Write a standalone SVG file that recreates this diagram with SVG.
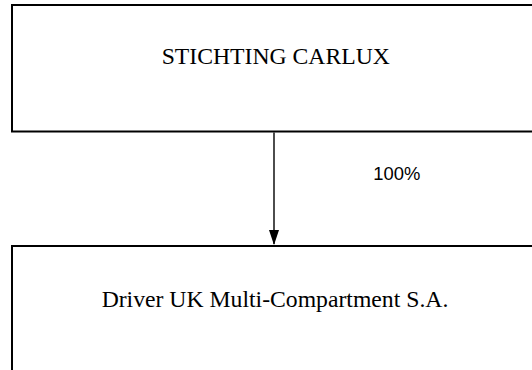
<svg xmlns="http://www.w3.org/2000/svg" width="532" height="370" viewBox="0 0 532 370">
<style>
.box{fill:#fff;stroke:#000;stroke-width:2}
.lbl{font-family:"Liberation Serif","Times New Roman",serif;font-size:23.7px;fill:#000;text-anchor:middle}
.pct{font-family:"Liberation Sans",Arial,sans-serif;font-size:18.4px;fill:#000}
.conn{stroke:#000;stroke-width:1.4;fill:none}
</style>
<defs>
<marker id="arr" markerUnits="userSpaceOnUse" markerWidth="15" markerHeight="10" refX="14" refY="5" orient="auto" viewBox="0 0 15 10">
<path d="M0,0 L15,5 L0,10 Z" fill="#000"/>
</marker>
</defs>
<rect width="532" height="370" fill="#fff"/>
<g id="node-stichting">
<rect class="box" x="12" y="5" width="600" height="126.5"/>
<text class="lbl" x="275.8" y="64">STICHTING CARLUX</text>
</g>
<g id="node-driver">
<rect class="box" x="12" y="246" width="600" height="200"/>
<text class="lbl" x="275" y="307">Driver UK Multi-Compartment S.A.</text>
</g>
<g id="connectors">
<line class="conn" x1="274" y1="132.5" x2="274" y2="244" marker-end="url(#arr)"/>
<text class="pct" x="373.3" y="180">100%</text>
</g>
</svg>
